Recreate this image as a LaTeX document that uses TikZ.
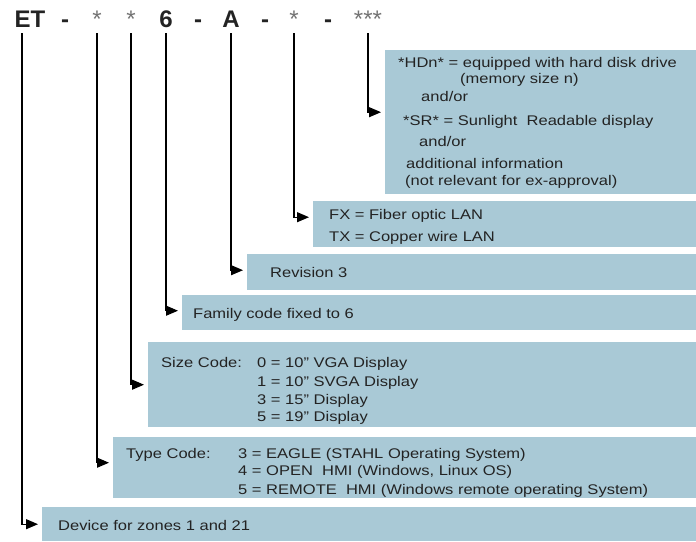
\documentclass[tikz,border=0pt]{standalone}
\usepackage{fontspec}
\setmainfont[FakeStretch=1.18]{Liberation Sans}
\newfontfamily\headfont{Liberation Sans}
\usetikzlibrary{arrows.meta}
\definecolor{boxblue}{RGB}{169,201,214}
\definecolor{inkgrey}{RGB}{35,35,35}
\newcommand{\boxfont}{\fontsize{14}{16}\selectfont}
\newcommand{\headsize}{\headfont\fontsize{24}{28}\selectfont}

\begin{document}
\begin{tikzpicture}[x=1pt, y=-1pt,
	head/.style={font=\headsize\bfseries, text=inkgrey, anchor=base,
		inner xsep=0pt, inner ysep=6pt, text height=17pt, text depth=0pt},
	star/.style={head, font=\headsize, text=black!55},
	infobox/.style={fill=boxblue, anchor=north west, inner sep=0pt},
	txt/.style={anchor=base west, inner sep=0pt, text=inkgrey, font=\boxfont},
	lead/.style={line width=1.1pt, -{Triangle[length=12pt,width=10pt]},
		shorten >=4pt}]
	\useasboundingbox (0,0) rectangle (696,541);

	% order code
	\node [head] (et) at (30,27) {ET};
	\node [head] (d1) at (65,27) {-};
	\node [star] (s1) at (97,27) {*};
	\node [star] (s2) at (131,27) {*};
	\node [head] (six) at (166,27) {6};
	\node [head] (d2) at (198,27) {-};
	\node [head] (a) at (231,27) {A};
	\node [head] (d3) at (265,27) {-};
	\node [star] (s3) at (294,27) {*};
	\node [head] (d4) at (328,27) {-};
	\node [star] (s4) at (368,27) {***};

	% boxes
	\node [infobox, minimum width=311pt, minimum height=144pt] (hdd) at (385,50) {};
	\node [infobox, minimum width=383pt, minimum height=46pt] (lan) at (313,201) {};
	\node [infobox, minimum width=449pt, minimum height=36pt] (rev) at (247,254) {};
	\node [infobox, minimum width=514pt, minimum height=35pt] (fam) at (182,295) {};
	\node [infobox, minimum width=548pt, minimum height=85pt] (size) at (148,342) {};
	\node [infobox, minimum width=583pt, minimum height=61pt] (type) at (113,437) {};
	\node [infobox, minimum width=654pt, minimum height=34pt] (dev) at (42,507) {};

	% texts
	\node [txt] (hdd1) at (398,67) {*HDn* = equipped with hard disk drive};
	\node [txt] (hdd2) at (460,83) {(memory size n)};
	\node [txt] (hdd3) at (421,101) {and/or};
	\node [txt] (hdd4) at (403,125) {*SR* = Sunlight\ \ Readable display};
	\node [txt] (hdd5) at (419,146) {and/or};
	\node [txt] (hdd6) at (406,168) {additional information};
	\node [txt] (hdd7) at (405,185) {(not relevant for ex-approval)};
	\node [txt] (lan1) at (329,219) {FX = Fiber optic LAN};
	\node [txt] (lan2) at (329,241) {TX = Copper wire LAN};
	\node [txt] (rev1) at (270,277) {Revision 3};
	\node [txt] (fam1) at (193,318) {Family code fixed to 6};
	\node [txt] (size0) at (161,367) {Size Code:};
	\node [txt] (size1) at (257,367) {0 = 10" VGA Display};
	\node [txt] (size2) at (257,386) {1 = 10" SVGA Display};
	\node [txt] (size3) at (257,404) {3 = 15" Display};
	\node [txt] (size4) at (257,421) {5 = 19" Display};
	\node [txt] (type0) at (126,458) {Type Code:};
	\node [txt] (type1) at (238,458) {3 = EAGLE (STAHL Operating System)};
	\node [txt] (type2) at (238,475) {4 = OPEN\ \ HMI (Windows, Linux OS)};
	\node [txt] (type3) at (238,494) {5 = REMOTE\ \ HMI (Windows remote operating System)};
	\node [txt] (dev1) at (58,530) {Device for zones 1 and 21};

	% leads
	\draw [lead] ([xshift=-8pt]et.south) |- (dev.west);
	\draw [lead] (s1.south) |- ([yshift=5pt]type.west);
	\draw [lead] (s2.south) |- (size.west);
	\draw [lead] (six.south) |- ([yshift=2pt]fam.west);
	\draw [lead] (a.south) |- ([yshift=2pt]rev.west);
	\draw [lead] (s3.south) |- ([yshift=7pt]lan.west);
	\draw [lead] (s4.south) |- ([yshift=10pt]hdd.west);
\end{tikzpicture}
\end{document}
